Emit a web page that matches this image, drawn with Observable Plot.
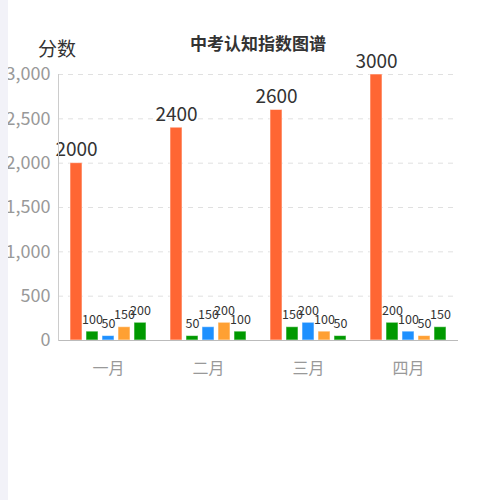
<!DOCTYPE html>
<html>
<head>
<meta charset="utf-8">
<script src="https://cdn.jsdelivr.net/npm/d3@7"></script>
<script src="https://cdn.jsdelivr.net/npm/@observablehq/plot@0.6"></script>
<style>
  html, body { margin: 0; padding: 0; background: #fff; }
  #wrap { position: relative; width: 500px; height: 500px; overflow: hidden; font-family: "Noto Sans CJK SC", "Noto Sans", sans-serif; }
  #strip { position: absolute; left: 0; top: 0; width: 8px; height: 500px; background: #f2f2f8; z-index: 5; }
  #title { position: absolute; left: 0; width: 516px; top: 31px; text-align: center; font-size: 17px; font-weight: bold; color: #333; z-index: 4; line-height: 24px; }
  #yname { position: absolute; left: 38px; top: 35px; font-size: 19px; color: #333; z-index: 4; line-height: 26px; }
  #chart { position: absolute; left: 0; top: 0; }
</style>
</head>
<body>
<div id="wrap">
  <div id="strip"></div>
  <div id="title">中考认知指数图谱</div>
  <div id="yname">分数</div>
  <div id="chart"></div>
</div>
<script>
const months = ["一月", "二月", "三月", "四月"];
const seriesKeys = ["s1", "s2", "s3", "s4", "s5"];
const s1 = [2000, 2400, 2600, 3000];
const s2 = [100, 50, 150, 200];
const s3 = [50, 150, 200, 100];
const s4 = [150, 200, 100, 50];
const s5 = [200, 100, 50, 150];
const yTicks = [0, 500, 1000, 1500, 2000, 2500, 3000];
const colors = ["#ff6633", "#009900", "#1e90ff", "#ffa033", "#009900"];

const seriesValues = [s1, s2, s3, s4, s5];
const rows = [];
months.forEach((m, i) => {
  seriesKeys.forEach((s, j) => {
    rows.push({month: m, s: s, v: seriesValues[j][i]});
  });
});

const chart = Plot.plot({
  width: 500,
  height: 500,
  marginLeft: 58,
  marginRight: 42,
  marginTop: 74,
  marginBottom: 160,
  style: {fontFamily: "'Noto Sans CJK SC', 'Noto Sans', sans-serif", background: "transparent", overflow: "visible"},
  fx: {domain: months, padding: 0, label: null},
  x: {domain: seriesKeys, paddingInner: 0.22, paddingOuter: 0.61, axis: null},
  y: {domain: [0, 3000], axis: null},
  color: {domain: seriesKeys, range: colors},
  marks: [
    Plot.ruleY(yTicks.filter(t => t > 0), {stroke: "#e0e0e0", strokeDasharray: "5,5"}),
    Plot.axisY(yTicks, {tickSize: 0, tickPadding: 8, fontSize: 18, color: "#999", fill: "#999", tickFormat: d3.format(","), label: null}),
    Plot.barY(rows, {fx: "month", x: "s", y: "v", fill: "s", stroke: "white", strokeOpacity: 0.55, strokeWidth: 1}),
    Plot.text(rows.filter(d => d.s === "s1"), {fx: "month", x: "s", y: "v", text: d => String(d.v), fontSize: 19, fill: "#333", lineAnchor: "bottom", dy: -7}),
    Plot.text(rows.filter(d => d.s !== "s1"), {fx: "month", x: "s", y: "v", text: d => String(d.v), fontSize: 12.5, fill: "#333", lineAnchor: "bottom", dy: -8}),
    Plot.ruleY([0], {stroke: "#bbb"}),
    Plot.frame({anchor: "left", facetAnchor: "left", stroke: "#ccc"}),
    Plot.axisFx({anchor: "bottom", tickSize: 0, tickPadding: 22, fontSize: 16, color: "#999", fill: "#999", label: null})
  ]
});
document.getElementById("chart").appendChild(chart);
</script>
</body>
</html>
